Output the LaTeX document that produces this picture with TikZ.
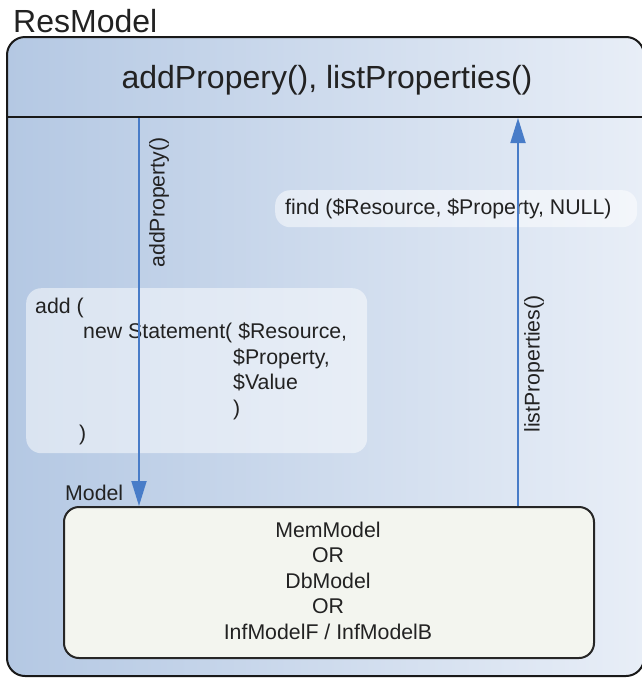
\documentclass[tikz,border=0pt]{standalone}
\usepackage{fontspec}
\setmainfont{Liberation Sans}
\usetikzlibrary{arrows.meta}
\definecolor{shadeL}{RGB}{180,200,227}
\definecolor{shadeR}{RGB}{232,238,247}
\definecolor{flowblue}{RGB}{72,124,200}
\definecolor{modelfill}{RGB}{243,245,239}
\definecolor{inkgray}{RGB}{34,34,34}
\tikzset{
  outline/.style={draw=black!90, line width=2pt},
  notebox/.style={rounded corners=15pt, fill=white, fill opacity=0.5, draw=none},
  flow/.style={draw=flowblue, line width=1.8pt, -{Triangle[length=25pt,width=15pt]}},
  bodytext/.style={font=\fontsize{21.3}{25.5}\selectfont, text=inkgray, inner sep=0pt},
  bigtext/.style={font=\fontsize{32}{38}\selectfont, text=inkgray, inner sep=0pt},
}
\begin{document}
\begin{tikzpicture}[x=1pt,y=-1pt]
\useasboundingbox (0,0) rectangle (642,678);

% container of the resource model
\path[left color=shadeL, right color=shadeR, rounded corners=18pt]
  (7,37) rectangle (644,676);
\draw[outline, rounded corners=18pt] (7,37) rectangle (644,676);
\coordinate (sepW) at (7,117);
\coordinate (sepE) at (644,117);
\draw[outline] (sepW) -- (sepE);

\node[bigtext, anchor=base west] (title) at (13,32) {ResModel};
\node[bigtext] (header) at (327,80) {addPropery(), listProperties()};

% translucent annotation boxes
\node[notebox, minimum width=362pt, minimum height=37pt, anchor=north west] (findbox) at (275,190) {};
\node[bodytext, anchor=west] (findtxt) at (285,208.5) {find (\$Resource, \$Property, NULL)};

\node[notebox, minimum width=341pt, minimum height=165pt, anchor=north west] (addbox) at (26,288) {};
\node[bodytext, anchor=north west, align=left] (addtxt) at (35,297.5)
  {add (\\
   \hspace*{48pt}new Statement( \$Resource,\\
   \hspace*{198pt}\$Property,\\
   \hspace*{198pt}\$Value\\
   \hspace*{198pt})\\
   \hspace*{44pt})};

% inner model
\node[outline, draw=black!85, fill=modelfill, rounded corners=15pt,
      minimum width=530pt, minimum height=151pt, anchor=north west] (model) at (63,506) {};
\node[bodytext, align=center] (modeltxt) at (328,580.5)
  {MemModel\\OR\\DbModel\\OR\\InfModelF / InfModelB};
\node[bodytext, anchor=base west] (modellbl) at (65,500) {Model};

% calls between the container and the model
\coordinate (addTop) at (139,118);
\coordinate (listTop) at (518,118);
\draw[flow] (addTop) -- (addTop |- model.north);
\draw[flow] (listTop |- model.north) -- (listTop);

\node[bodytext, rotate=90] (addlbl) at (159,202.5) {addProperty()};
\node[bodytext, rotate=90] (listlbl) at (534,364) {listProperties()};
\end{tikzpicture}
\end{document}
